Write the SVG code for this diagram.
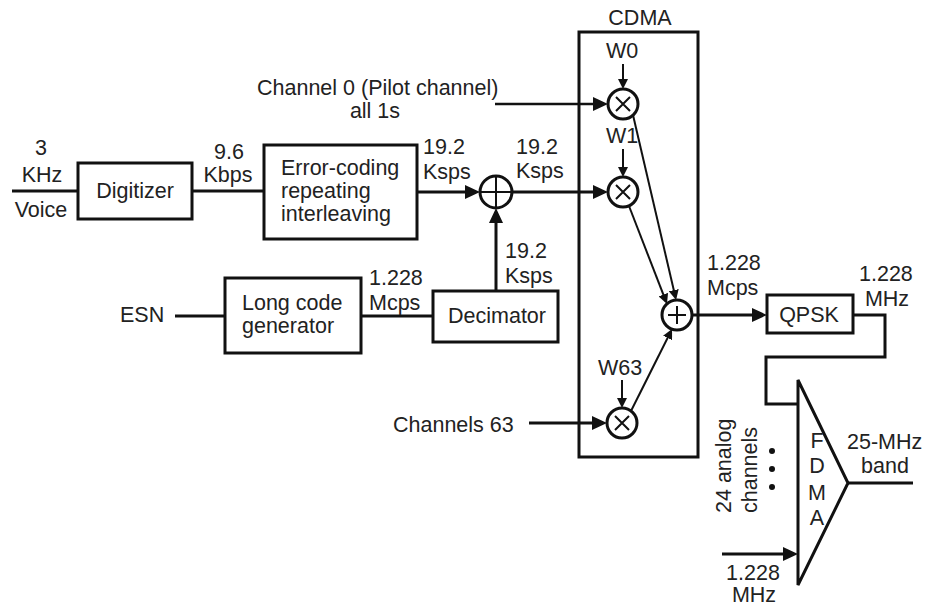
<svg xmlns="http://www.w3.org/2000/svg" width="928" height="607" viewBox="0 0 928 607">
<style>
  .t { font-family: "Liberation Sans", Arial, sans-serif; font-size: 21.5px; fill: #222; }
  .m { text-anchor: middle; }
  .box { fill: none; stroke: #111; stroke-width: 3; }
  .w { fill: none; stroke: #111; stroke-width: 3; }
  .thin { fill: none; stroke: #111; stroke-width: 2; }
  .ring { fill: #fff; stroke: #111; stroke-width: 3; }
  .sym { stroke: #111; stroke-width: 2; fill: none; }
</style>
<defs>
  <marker id="big" markerUnits="userSpaceOnUse" markerWidth="15" markerHeight="14" refX="11" refY="7" orient="auto">
    <path d="M0,0 L15,7 L0,14 z" fill="#111"/>
  </marker>
  <marker id="small" markerUnits="userSpaceOnUse" markerWidth="10" markerHeight="10" refX="7" refY="5" orient="auto">
    <path d="M0,0 L10,5 L0,10 z" fill="#111"/>
  </marker>
</defs>
<rect width="928" height="607" fill="#fff"/>

<g id="connectors">
  <line class="w" x1="12" y1="191" x2="78" y2="191"/>
  <line class="w" x1="192" y1="191" x2="264" y2="191"/>
  <line class="w" x1="417" y1="192" x2="476" y2="192" marker-end="url(#big)"/>
  <line class="w" x1="512" y1="192" x2="604" y2="192" marker-end="url(#big)"/>
  <line class="w" x1="495" y1="104" x2="604" y2="104" style="stroke-width:2.5" marker-end="url(#big)"/>
  <line class="thin" x1="623" y1="64" x2="623" y2="86" marker-end="url(#small)"/>
  <line class="thin" x1="623" y1="149" x2="623" y2="174" marker-end="url(#small)"/>
  <line class="thin" x1="622" y1="380" x2="622" y2="405" marker-end="url(#small)"/>
  <line class="thin" x1="633" y1="115" x2="675.4" y2="297" marker-end="url(#small)"/>
  <line class="thin" x1="629" y1="206" x2="665.9" y2="301.2" marker-end="url(#small)"/>
  <line class="thin" x1="631" y1="411" x2="670.7" y2="331.7" marker-end="url(#small)"/>
  <line class="w" x1="529" y1="423" x2="603" y2="423" marker-end="url(#big)"/>
  <line class="w" x1="692" y1="315" x2="763" y2="315" marker-end="url(#big)"/>
  <polyline class="w" points="853,315 885,315 885,357 766,357 766,404 798,404"/>
  <line class="w" x1="848" y1="483" x2="913" y2="483"/>
  <line class="w" x1="722" y1="554" x2="794" y2="554" marker-end="url(#big)"/>
  <line class="w" x1="175" y1="316" x2="225" y2="316"/>
  <line class="w" x1="361" y1="316" x2="433" y2="316"/>
  <line class="w" x1="496" y1="291" x2="496" y2="212" marker-end="url(#big)"/>
</g>

<g id="labels">
  <text class="t m" x="41" y="155">3</text>
  <text class="t m" x="42" y="182">KHz</text>
  <text class="t m" x="41" y="217">Voice</text>
  <text class="t m" x="229" y="159">9.6</text>
  <text class="t m" x="228" y="182">Kbps</text>
  <text class="t" x="257" y="95">Channel 0 (Pilot channel)</text>
  <text class="t m" x="375" y="118">all 1s</text>
  <text class="t" x="423" y="154">19.2</text>
  <text class="t" x="423" y="179">Ksps</text>
  <text class="t" x="516" y="154">19.2</text>
  <text class="t" x="516" y="178">Ksps</text>
  <text class="t" x="505" y="258">19.2</text>
  <text class="t" x="505" y="283">Ksps</text>
  <text class="t" x="120" y="322">ESN</text>
  <text class="t" x="369" y="285">1.228</text>
  <text class="t" x="369" y="310">Mcps</text>
  <text class="t" x="393" y="432">Channels 63</text>
  <text class="t" x="707" y="270">1.228</text>
  <text class="t" x="707" y="295">Mcps</text>
  <text class="t" x="859" y="281">1.228</text>
  <text class="t m" x="887" y="306">MHz</text>
  <text class="t" x="847" y="449">25-MHz</text>
  <text class="t m" x="885" y="473">band</text>
  <text class="t" transform="translate(731,513) rotate(-90)">24 analog</text>
  <text class="t" transform="translate(757,513) rotate(-90)">channels</text>
  <circle cx="772" cy="451" r="3" fill="#111"/>
  <circle cx="772" cy="469" r="3" fill="#111"/>
  <circle cx="772" cy="487" r="3" fill="#111"/>
  <text class="t m" x="753" y="580">1.228</text>
  <text class="t m" x="754" y="602">MHz</text>
</g>

<g id="digitizer">
  <rect class="box" x="78" y="163" width="114" height="56"/>
  <text class="t m" x="135" y="198">Digitizer</text>
</g>

<g id="error-coding">
  <rect class="box" x="264" y="145" width="153" height="94"/>
  <text class="t" x="281" y="175">Error-coding</text>
  <text class="t" x="281" y="198">repeating</text>
  <text class="t" x="281" y="221">interleaving</text>
</g>

<g id="xor">
  <circle class="ring" cx="496" cy="192" r="16"/>
  <path class="sym" d="M480,192 H512 M496,176 V208"/>
</g>

<g id="long-code-generator">
  <rect class="box" x="225" y="278" width="136" height="75"/>
  <text class="t" x="242" y="310">Long code</text>
  <text class="t" x="242" y="333">generator</text>
</g>

<g id="decimator">
  <rect class="box" x="433" y="291" width="125" height="51"/>
  <text class="t m" x="497" y="323">Decimator</text>
</g>

<g id="cdma">
  <rect class="box" x="579" y="32" width="119" height="425"/>
  <text class="t m" x="640" y="25">CDMA</text>
</g>

<g id="w0">
  <text class="t m" x="622" y="58">W0</text>
  <circle class="ring" cx="623" cy="104" r="15"/>
  <path class="sym" d="M616,97 L630,111 M630,97 L616,111"/>
</g>

<g id="w1">
  <text class="t m" x="622" y="143">W1</text>
  <circle class="ring" cx="623" cy="192" r="15"/>
  <path class="sym" d="M616,185 L630,199 M630,185 L616,199"/>
</g>

<g id="w63">
  <text class="t m" x="620" y="375">W63</text>
  <circle class="ring" cx="622" cy="423" r="15"/>
  <path class="sym" d="M615,416 L629,430 M629,416 L615,430"/>
</g>

<g id="sum">
  <circle class="ring" cx="677" cy="315" r="15"/>
  <path class="sym" d="M668,315 H686 M677,306 V324"/>
</g>

<g id="qpsk">
  <rect class="box" x="767" y="295" width="86" height="38"/>
  <text class="t m" x="809" y="322">QPSK</text>
</g>

<g id="fdma">
  <polygon class="box" points="798,380 848,483 798,585"/>
  <text class="t m" x="817" y="448">F</text>
  <text class="t m" x="817" y="473">D</text>
  <text class="t m" x="817" y="500">M</text>
  <text class="t m" x="817" y="525">A</text>
</g>
</svg>
